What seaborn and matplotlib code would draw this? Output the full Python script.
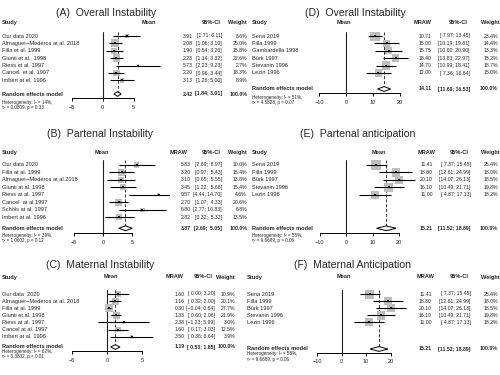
import numpy as np
import pandas as pd
import seaborn as sns
import matplotlib.pyplot as plt
from matplotlib.transforms import blended_transform_factory

# (A) Overall Instability
a_study = ["Our data 2020", "Almaguer\u2212Mederos at al. 2018", "Filla et al. 1999", "Giunti et al.  1998",
           "Riess et al. 1997", "Cancel  et al. 1997", "Imbert at el. 1996"]
a_mean = [3.91, 2.08, 1.90, 2.23, 5.73, 2.20, 3.13]
a_lo = [1.71, 1.06, 0.54, 1.14, 2.23, 0.96, 1.26]
a_hi = [6.11, 3.10, 3.26, 3.32, 9.23, 3.44, 5.00]
a_w = [6.6, 25.0, 15.8, 22.6, 2.7, 18.3, 8.9]
a_pool = [2.42, 1.84, 3.01]
a_het = ["Heterogeneity: I\u00b2 = 14%,", "\u03c4\u00b2 = 0.0809, p = 0.33"]

# (B) Partenal Instability
b_study = ["Our data 2020", "Filla at al. 1999", "Almaguer\u2212Mederos at al.2018", "Giunti at al. 1998",
           "Riess at al. 1997", "Cancel  at al.1997", "Sch\u00f6ls at al. 1997", "Imbert at al. 1996"]
b_mean = [5.83, 3.20, 3.10, 3.45, 9.57, 2.70, 6.80, 2.82]
b_lo = [2.69, 0.97, 0.65, 1.22, 4.44, 1.07, 2.77, 0.32]
b_hi = [8.97, 5.43, 5.55, 5.68, 14.70, 4.33, 10.83, 5.32]
b_w = [10.0, 15.4, 13.8, 15.4, 4.6, 20.6, 6.8, 13.5]
b_pool = [3.87, 2.69, 5.05]
b_het = ["Heterogeneity: I\u00b2 = 39%,", "\u03c4\u00b2 = 1.0602, p = 0.12"]

# (C) Maternal Instability
c_study = ["Our data  2020", "Almaguer\u2212Mederos at al. 2018", "Filla at al. 1999", "Giunti et al. 1998",
           "Riess at al. 1997", "Cancel at al. 1997", "Imbert at al. 1996"]
c_mean = [1.60, 1.16, 0.30, 1.33, 2.38, 1.60, 3.50]
c_lo = [0.00, 0.32, -0.04, 0.60, -1.23, 0.17, 0.36]
c_hi = [3.20, 2.00, 0.64, 2.06, 5.99, 3.03, 6.64]
c_w = [10.9, 20.1, 27.7, 21.9, 3.0, 12.5, 3.9]
c_pool = [1.19, 0.53, 1.85]
c_het = ["Heterogeneity: I\u00b2 = 62%,", "\u03c4\u00b2 = 0.3802, p = 0.01"]

# (D) Overall Instability
d_study = ["Sena 2019", "Filla 1999", "Gambardella 1998", "B\u00fcrk 1997", "Stevanin 1996", "Lezin 1996"]
d_mean = [10.71, 15.00, 15.75, 18.40, 14.70, 12.00]
d_lo = [7.97, 10.19, 10.60, 13.83, 10.99, 7.36]
d_hi = [13.45, 19.81, 20.90, 22.97, 18.41, 16.64]
d_w = [23.4, 14.4, 13.3, 15.2, 18.7, 15.0]
d_pool = [14.11, 11.69, 16.53]
d_het = ["Heterogeneity: I\u00b2 = 51%,", "\u03c4\u00b2 = 4.5828, p = 0.07"]

# (E) Partenal anticipation
e_study = ["Sena 2019", "Filla 1999", "B\u00fcrk 1997", "Stevanin 1996", "Lezin 1996"]
e_mean = [11.41, 18.80, 20.10, 16.10, 11.00]
e_lo = [7.37, 12.61, 14.07, 10.49, 4.87]
e_hi = [15.45, 24.99, 26.13, 21.71, 17.13]
e_w = [25.4, 18.0, 18.5, 19.8, 18.2]
e_pool = [15.21, 11.52, 18.89]
e_het = ["Heterogeneity: I\u00b2 = 55%,", "\u03c4\u00b2 = 9.6689, p = 0.06"]

# (F) Maternal Anticipation
f_study = ["Sena 2019", "Filla 1999", "B\u00fcrk 1997", "Stevanin 1996", "Lezin 1996"]
f_mean = [11.41, 18.80, 20.10, 16.10, 11.00]
f_lo = [7.37, 12.61, 14.07, 10.49, 4.87]
f_hi = [15.45, 24.99, 26.13, 21.71, 17.13]
f_w = [25.4, 18.0, 18.5, 19.8, 18.2]
f_pool = [15.21, 11.52, 18.89]
f_het = ["Heterogeneity: I\u00b2 = 55%,", "\u03c4\u00b2 = 9.6689, p = 0.06"]

sns.set_theme(style="white")
plt.rcParams["font.family"] = ["Liberation Sans", "DejaVu Sans"]

W, H = 500, 375
fig = plt.figure(figsize=(5, 3.75), dpi=100)
FS = 4.1    # study names / headers
NFS = 3.7   # numeric columns


def num(v):
    return f"{v:.2f}".replace("-", "\u2212")


def forest(study, mean, lo, hi, wt, pool, het, title, lay):
    n = len(study)
    zero, ppu = lay["zero"], lay["ppu"]
    xl, xr = lay["xlim"]
    row0, dy = lay["row0"], lay["dy"]
    top = row0 - 4.5
    left = zero + xl * ppu
    ax = fig.add_axes([left / W, 1 - lay["axis"] / H, (xr - xl) * ppu / W, (lay["axis"] - top) / H])

    def ry(px):
        return (px - row0) / dy

    df = pd.DataFrame({"mean": mean, "lo": lo, "hi": hi, "w": wt, "row": np.arange(n)})
    rr = ry(lay["rand"])

    ax.axvline(0, color="#222222", lw=0.8, zorder=1)
    ax.plot([pool[0], pool[0]], [ry(top), rr], color="#333333", lw=0.7, ls=(0, (3, 2)), zorder=1)
    sns.scatterplot(data=df, x="mean", y="row", size="w", sizes=(0, lay["sq"] * 30), size_norm=(0, 30),
                    marker="s", color="#BEBEBE", linewidth=0, legend=False, ax=ax, zorder=2)
    for _, r in df.iterrows():
        ax.plot([r["lo"], r["hi"]], [r["row"], r["row"]], color="black", lw=0.8, zorder=3,
                solid_capstyle="butt")
    ax.scatter(df["mean"], df["row"], s=1.2, marker="s", color="black", linewidths=0, zorder=4)
    h = 2.4 / dy
    ax.fill([pool[1], pool[0], pool[2], pool[0]], [rr, rr - h, rr, rr + h],
            facecolor="white", edgecolor="black", lw=0.7, zorder=3)

    # axis styling, limits set after plotting so seaborn does not rescale
    ax.set_xlim(xl, xr)
    ax.set_ylim(ry(lay["axis"]), ry(top))
    ax.set_xlabel("")
    ax.set_ylabel("")
    ax.patch.set_alpha(0)
    for s in ["top", "left", "right"]:
        ax.spines[s].set_visible(False)
    ax.spines["bottom"].set_bounds(lay["ticks"][0], lay["ticks"][-1])
    ax.spines["bottom"].set_linewidth(0.7)
    ax.spines["bottom"].set_color("black")
    ax.set_xticks(lay["ticks"])
    ax.set_yticks([])
    ax.tick_params(axis="x", length=2.2, width=0.7, pad=2.5, labelsize=FS, direction="out",
                   bottom=True, color="black")

    tr = blended_transform_factory(fig.transFigure, ax.transData)
    kw = dict(transform=tr, va="center", clip_on=False, fontsize=FS)
    nk = {**kw, "fontsize": NFS}
    ax.text(lay["title"][0] / W, ry(lay["title"][1]), title, ha="center", **{**kw, "fontsize": 7.6})
    hy = ry(lay["head_y"])
    ax.text(lay["study_x"] / W, hy, "Study", ha="left", fontweight="bold", **kw)
    for lab, x, ha in lay["heads"]:
        ax.text(x / W, hy, lab, ha=ha, fontweight="bold", **kw)

    lp = max(len(num(v)) for v in lo + [pool[1]])
    hp = max(len(num(v)) for v in hi + [pool[2]])

    def ci(a, b):
        return "[" + num(a).rjust(lp) + "; " + num(b).rjust(hp) + "]"

    for i in range(n):
        ax.text(lay["study_x"] / W, i, study[i], ha="left", **kw)
        ax.text(lay["mean_r"] / W, i, num(mean[i]), ha="right", **nk)
        ax.text(lay["ci_r"] / W, i, ci(lo[i], hi[i]), ha="right", **nk)
        ax.text(lay["w_r"] / W, i, f"{wt[i]:.1f}%", ha="right", **nk)
    ax.text(lay["study_x"] / W, rr, "Random effects model", ha="left", fontweight="bold", **kw)
    ax.text(lay["mean_r"] / W, rr, num(pool[0]), ha="right", fontweight="bold", **nk)
    ax.text(lay["ci_r"] / W, rr, ci(pool[1], pool[2]), ha="right", fontweight="bold", **nk)
    ax.text(lay["w_r"] / W, rr, "100.0%", ha="right", fontweight="bold", **nk)
    for t, y in zip(het, lay["het"]):
        ax.text(lay["study_x"] / W, ry(y), t, ha="left", **{**kw, "fontsize": 3.3})
    return ax


lay_a = dict(zero=102.5, ppu=6.2, xlim=(-5.6, 10.2), ticks=[-5, 0, 5], row0=36, dy=7.4, rand=94, axis=98,
             title=(106.5, 13.5), head_y=22.5, study_x=2, mean_r=193, ci_r=222, w_r=247, sq=1.3,
             heads=[("Mean", 149, "center"), ("95%-CI", 221, "right"), ("Weight", 247, "right")],
             het=(102.5, 107.5))
lay_b = dict(zero=103, ppu=5.8, xlim=(-5.6, 11.5), ticks=[-5, 0, 5], row0=165, dy=7.45, rand=228.3, axis=233,
             title=(100, 134.5), head_y=152.3, study_x=2, mean_r=191, ci_r=222, w_r=247, sq=1.3,
             heads=[("Mean", 102, "center"), ("MRAW", 188, "right"), ("95%-CI", 221, "right"),
                    ("Weight", 247, "right")],
             het=(235.5, 240.7))
lay_c = dict(zero=107, ppu=7.0, xlim=(-5.6, 7.8), ticks=[-5, 0, 5], row0=294, dy=7.1, rand=347, axis=351,
             title=(100.5, 265.5), head_y=277, study_x=2, mean_r=185, ci_r=215, w_r=235, sq=1.3,
             heads=[("Mean", 111, "center"), ("MRAW", 183, "right"), ("95%-CI", 213, "right"),
                    ("Weight", 235, "right")],
             het=(351.5, 356.5))
lay_d = dict(zero=346, ppu=2.7, xlim=(-10.8, 24.5), ticks=[-10, 0, 10, 20], row0=36, dy=7.4, rand=89,
             axis=93.3, title=(355.5, 13.5), head_y=22.5, study_x=252, mean_r=432, ci_r=470, w_r=498, sq=1.9,
             heads=[("Mean", 344, "center"), ("MRAW", 423, "center"), ("95%-CI", 458, "center"),
                    ("Weight", 490, "center")],
             het=(98, 102.7))
lay_e = dict(zero=346, ppu=2.65, xlim=(-10.8, 26.5), ticks=[-10, 0, 10, 20], row0=165, dy=7.5, rand=228.3,
             axis=233, title=(358, 134.5), head_y=152.3, study_x=252, mean_r=433, ci_r=470.7, w_r=498, sq=1.9,
             heads=[("Mean", 379, "center"), ("MRAW", 427, "center"), ("95%-CI", 459, "center"),
                    ("Weight", 490, "center")],
             het=(235.5, 240.7))
lay_f = dict(zero=341.7, ppu=2.45, xlim=(-10.8, 26.5), ticks=[-10, 0, 10, 20], row0=294, dy=7.1, rand=349,
             axis=352.5, title=(353, 265.5), head_y=277, study_x=247, mean_r=431.7, ci_r=470.7, w_r=498,
             sq=1.9,
             heads=[("Mean", 344, "center"), ("MRAW", 425.7, "center"), ("95%-CI", 459, "center"),
                    ("Weight", 490, "center")],
             het=(354, 359))

forest(a_study, a_mean, a_lo, a_hi, a_w, a_pool, a_het, "(A)  Overall Instability", lay_a)
forest(b_study, b_mean, b_lo, b_hi, b_w, b_pool, b_het, "(B)  Partenal Instability", lay_b)
forest(c_study, c_mean, c_lo, c_hi, c_w, c_pool, c_het, "(C)  Maternal Instability", lay_c)
forest(d_study, d_mean, d_lo, d_hi, d_w, d_pool, d_het, "(D)  Overall Instability", lay_d)
forest(e_study, e_mean, e_lo, e_hi, e_w, e_pool, e_het, "(E)  Partenal anticipation", lay_e)
forest(f_study, f_mean, f_lo, f_hi, f_w, f_pool, f_het, "(F)  Maternal Anticipation", lay_f)

fig.savefig("out.png", dpi=100)
